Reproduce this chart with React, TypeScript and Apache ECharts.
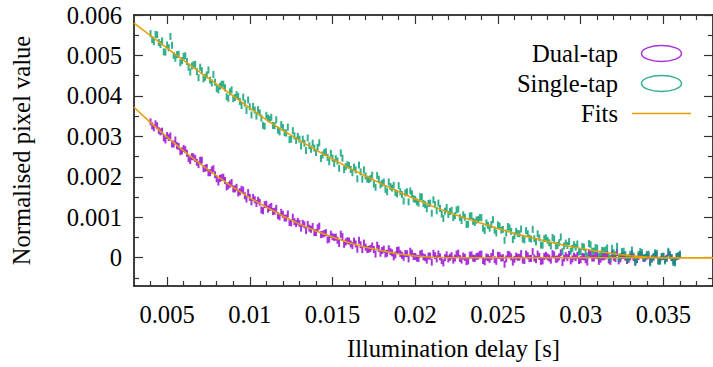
import React, { useEffect, useRef } from 'react';
import * as echarts from 'echarts';

// Illumination delay [s] of each measured sample (even and odd sample rows)
const delaysA = [
  40e-4, 42e-4, 44e-4, 46e-4, 48e-4, 50e-4, 52e-4, 54e-4, 56e-4, 58e-4,
  60e-4, 62e-4, 64e-4, 66e-4, 68e-4, 70e-4, 72e-4, 74e-4, 76e-4, 78e-4,
  80e-4, 82e-4, 84e-4, 86e-4, 88e-4, 90e-4, 92e-4, 94e-4, 96e-4, 98e-4,
  100e-4, 102e-4, 104e-4, 106e-4, 108e-4, 110e-4, 112e-4, 114e-4, 116e-4, 118e-4,
  120e-4, 122e-4, 124e-4, 126e-4, 128e-4, 130e-4, 132e-4, 134e-4, 136e-4, 138e-4,
  140e-4, 142e-4, 144e-4, 146e-4, 148e-4, 150e-4, 152e-4, 154e-4, 156e-4, 158e-4,
  160e-4, 162e-4, 164e-4, 166e-4, 168e-4, 170e-4, 172e-4, 174e-4, 176e-4, 178e-4,
  180e-4, 182e-4, 184e-4, 186e-4, 188e-4, 190e-4, 192e-4, 194e-4, 196e-4, 198e-4,
  200e-4, 202e-4, 204e-4, 206e-4, 208e-4, 210e-4, 212e-4, 214e-4, 216e-4, 218e-4,
  220e-4, 222e-4, 224e-4, 226e-4, 228e-4, 230e-4, 232e-4, 234e-4, 236e-4, 238e-4,
  240e-4, 242e-4, 244e-4, 246e-4, 248e-4, 250e-4, 252e-4, 254e-4, 256e-4, 258e-4,
  260e-4, 262e-4, 264e-4, 266e-4, 268e-4, 270e-4, 272e-4, 274e-4, 276e-4, 278e-4,
  280e-4, 282e-4, 284e-4, 286e-4, 288e-4, 290e-4, 292e-4, 294e-4, 296e-4, 298e-4,
  300e-4, 302e-4, 304e-4, 306e-4, 308e-4, 310e-4, 312e-4, 314e-4, 316e-4, 318e-4,
  320e-4, 322e-4, 324e-4, 326e-4, 328e-4, 330e-4, 332e-4, 334e-4, 336e-4, 338e-4,
  340e-4, 342e-4, 344e-4, 346e-4, 348e-4, 350e-4, 352e-4, 354e-4, 356e-4, 358e-4,
  360e-4,
];
const delaysB = [
  41e-4, 43e-4, 45e-4, 47e-4, 49e-4, 51e-4, 53e-4, 55e-4, 57e-4, 59e-4,
  61e-4, 63e-4, 65e-4, 67e-4, 69e-4, 71e-4, 73e-4, 75e-4, 77e-4, 79e-4,
  81e-4, 83e-4, 85e-4, 87e-4, 89e-4, 91e-4, 93e-4, 95e-4, 97e-4, 99e-4,
  101e-4, 103e-4, 105e-4, 107e-4, 109e-4, 111e-4, 113e-4, 115e-4, 117e-4, 119e-4,
  121e-4, 123e-4, 125e-4, 127e-4, 129e-4, 131e-4, 133e-4, 135e-4, 137e-4, 139e-4,
  141e-4, 143e-4, 145e-4, 147e-4, 149e-4, 151e-4, 153e-4, 155e-4, 157e-4, 159e-4,
  161e-4, 163e-4, 165e-4, 167e-4, 169e-4, 171e-4, 173e-4, 175e-4, 177e-4, 179e-4,
  181e-4, 183e-4, 185e-4, 187e-4, 189e-4, 191e-4, 193e-4, 195e-4, 197e-4, 199e-4,
  201e-4, 203e-4, 205e-4, 207e-4, 209e-4, 211e-4, 213e-4, 215e-4, 217e-4, 219e-4,
  221e-4, 223e-4, 225e-4, 227e-4, 229e-4, 231e-4, 233e-4, 235e-4, 237e-4, 239e-4,
  241e-4, 243e-4, 245e-4, 247e-4, 249e-4, 251e-4, 253e-4, 255e-4, 257e-4, 259e-4,
  261e-4, 263e-4, 265e-4, 267e-4, 269e-4, 271e-4, 273e-4, 275e-4, 277e-4, 279e-4,
  281e-4, 283e-4, 285e-4, 287e-4, 289e-4, 291e-4, 293e-4, 295e-4, 297e-4, 299e-4,
  301e-4, 303e-4, 305e-4, 307e-4, 309e-4, 311e-4, 313e-4, 315e-4, 317e-4, 319e-4,
  321e-4, 323e-4, 325e-4, 327e-4, 329e-4, 331e-4, 333e-4, 335e-4, 337e-4, 339e-4,
  341e-4, 343e-4, 345e-4, 347e-4, 349e-4, 351e-4, 353e-4, 355e-4, 357e-4, 359e-4,
];

// Normalised pixel value, dual-tap (at delaysA, then at delaysB)
const dualTapA = [
  336e-5, 321e-5, 326e-5, 311e-5, 296e-5, 302e-5, 301e-5, 281e-5, 277e-5, 262e-5,
  270e-5, 258e-5, 240e-5, 249e-5, 236e-5, 241e-5, 220e-5, 223e-5, 210e-5, 220e-5,
  195e-5, 196e-5, 199e-5, 175e-5, 182e-5, 170e-5, 174e-5, 163e-5, 167e-5, 145e-5,
  149e-5, 149e-5, 134e-5, 137e-5, 116e-5, 132e-5, 124e-5, 114e-5, 122e-5, 101e-5,
  107e-5, 98e-5, 87e-5, 100e-5, 84e-5, 85e-5, 85e-5, 67e-5, 73e-5, 77e-5,
  62e-5, 78e-5, 58e-5, 62e-5, 46e-5, 52e-5, 51e-5, 35e-5, 52e-5, 39e-5,
  41e-5, 30e-5, 34e-5, 43e-5, 20e-5, 26e-5, 21e-5, 29e-5, 9e-5, 23e-5,
  18e-5, 9e-5, 22e-5, 12e-5, 7e-5, 19e-5, 6e-5, 10e-5, -3e-5, 11e-5,
  3e-5, -2e-5, 11e-5, 0, 4e-5, -11e-5, 5e-5, 9e-5, -7e-5, 0,
  -3e-5, 5e-5, -1e-5, 11e-5, -6e-5, 1e-5, -8e-5, 7e-5, -2e-5, 4e-5,
  9e-5, -10e-5, 0, 3e-5, -5e-5, 6e-5, -1e-5, -16e-5, 8e-5, 2e-5,
  -4e-5, 1e-5, 10e-5, -7e-5, 5e-5, -2e-5, -1e-5, 9e-5, -9e-5, 3e-5,
  2e-5, -6e-5, 7e-5, -3e-5, 12e-5, -1e-5, 0, -8e-5, 4e-5, 6e-5,
  -5e-5, 2e-5, -11e-5, 9e-5, -1e-5, 5e-5, -4e-5, 2e-5, 8e-5, -9e-5,
  1e-5, 13e-5, -3e-5, 6e-5, -7e-5, 2e-5, 0, -5e-5, 8e-5, -2e-5,
  4e-5, -10e-5, 1e-5, 7e-5, -6e-5, 3e-5, -1e-5, 5e-5, -8e-5, 2e-5,
  6e-5,
];
const dualTapB = [
  326e-5, 331e-5, 314e-5, 313e-5, 291e-5, 297e-5, 281e-5, 291e-5, 275e-5, 264e-5,
  267e-5, 245e-5, 250e-5, 245e-5, 230e-5, 241e-5, 221e-5, 210e-5, 217e-5, 205e-5,
  187e-5, 198e-5, 191e-5, 178e-5, 186e-5, 170e-5, 160e-5, 169e-5, 153e-5, 161e-5,
  138e-5, 143e-5, 142e-5, 118e-5, 131e-5, 120e-5, 127e-5, 115e-5, 104e-5, 112e-5,
  98e-5, 108e-5, 86e-5, 89e-5, 90e-5, 73e-5, 81e-5, 82e-5, 70e-5, 62e-5,
  74e-5, 57e-5, 60e-5, 44e-5, 58e-5, 50e-5, 43e-5, 58e-5, 33e-5, 42e-5,
  34e-5, 41e-5, 21e-5, 32e-5, 36e-5, 20e-5, 23e-5, 20e-5, 31e-5, 11e-5,
  21e-5, 11e-5, 15e-5, 2e-5, 18e-5, 10e-5, 1e-5, 10e-5, 16e-5, 3e-5,
  -1e-5, 9e-5, 2e-5, -6e-5, 4e-5, 11e-5, -3e-5, 2e-5, -13e-5, 7e-5,
  1e-5, -6e-5, 9e-5, -2e-5, 4e-5, -10e-5, 6e-5, -1e-5, 3e-5, 8e-5,
  -7e-5, 2e-5, -4e-5, 12e-5, -9e-5, 5e-5, 0, -3e-5, 7e-5, -11e-5,
  4e-5, 1e-5, -6e-5, 9e-5, -2e-5, 15e-5, -5e-5, 3e-5, -8e-5, 6e-5,
  -1e-5, 10e-5, -4e-5, 2e-5, -12e-5, 5e-5, 8e-5, -3e-5, 0, -7e-5,
  3e-5, -5e-5, 11e-5, -1e-5, 6e-5, -9e-5, 2e-5, 4e-5, -6e-5, 9e-5,
  -2e-5, -8e-5, 5e-5, 1e-5, -4e-5, 10e-5, -11e-5, 3e-5, 7e-5, -1e-5,
  5e-5, -3e-5, 8e-5, -7e-5, 2e-5, -5e-5, 12e-5, 0, -9e-5, 4e-5,
];

// Normalised pixel value, single-tap (at delaysA, then at delaysB)
const singleTapA = [
  554e-5, 534e-5, 551e-5, 527e-5, 509e-5, 526e-5, 547e-5, 500e-5, 502e-5, 482e-5,
  498e-5, 485e-5, 459e-5, 477e-5, 460e-5, 471e-5, 442e-5, 452e-5, 439e-5, 453e-5,
  418e-5, 424e-5, 429e-5, 398e-5, 410e-5, 393e-5, 403e-5, 386e-5, 397e-5, 364e-5,
  373e-5, 374e-5, 350e-5, 358e-5, 327e-5, 352e-5, 342e-5, 327e-5, 341e-5, 311e-5,
  322e-5, 308e-5, 292e-5, 314e-5, 290e-5, 293e-5, 293e-5, 265e-5, 277e-5, 283e-5,
  260e-5, 284e-5, 254e-5, 262e-5, 237e-5, 246e-5, 245e-5, 221e-5, 246e-5, 225e-5,
  228e-5, 210e-5, 217e-5, 229e-5, 194e-5, 202e-5, 193e-5, 204e-5, 174e-5, 194e-5,
  184e-5, 169e-5, 187e-5, 172e-5, 161e-5, 178e-5, 156e-5, 160e-5, 138e-5, 158e-5,
  144e-5, 135e-5, 150e-5, 131e-5, 134e-5, 110e-5, 131e-5, 135e-5, 108e-5, 115e-5,
  107e-5, 117e-5, 104e-5, 120e-5, 92e-5, 100e-5, 83e-5, 104e-5, 87e-5, 94e-5,
  99e-5, 67e-5, 80e-5, 82e-5, 68e-5, 81e-5, 68e-5, 43e-5, 77e-5, 65e-5,
  54e-5, 60e-5, 71e-5, 44e-5, 59e-5, 46e-5, 47e-5, 59e-5, 31e-5, 47e-5,
  43e-5, 29e-5, 46e-5, 30e-5, 51e-5, 29e-5, 30e-5, 16e-5, 32e-5, 34e-5,
  15e-5, 26e-5, 4e-5, 32e-5, 16e-5, 23e-5, 9e-5, 17e-5, 24e-5, -2e-5,
  12e-5, 28e-5, 3e-5, 16e-5, -5e-5, 8e-5, 4e-5, -4e-5, 15e-5, 0,
  8e-5, -13e-5, 3e-5, 11e-5, -9e-5, 4e-5, -2e-5, 8e-5, -12e-5, 3e-5,
  9e-5,
];
const singleTapB = [
  539e-5, 552e-5, 532e-5, 536e-5, 508e-5, 519e-5, 525e-5, 493e-5, 503e-5, 487e-5,
  499e-5, 471e-5, 474e-5, 478e-5, 445e-5, 462e-5, 446e-5, 464e-5, 432e-5, 434e-5,
  415e-5, 429e-5, 420e-5, 394e-5, 415e-5, 396e-5, 399e-5, 376e-5, 382e-5, 390e-5,
  353e-5, 365e-5, 366e-5, 345e-5, 325e-5, 345e-5, 347e-5, 326e-5, 315e-5, 329e-5,
  309e-5, 323e-5, 293e-5, 301e-5, 300e-5, 276e-5, 283e-5, 296e-5, 268e-5, 271e-5,
  273e-5, 245e-5, 260e-5, 248e-5, 258e-5, 233e-5, 239e-5, 259e-5, 218e-5, 230e-5,
  218e-5, 224e-5, 195e-5, 212e-5, 217e-5, 194e-5, 196e-5, 182e-5, 203e-5, 180e-5,
  187e-5, 163e-5, 176e-5, 179e-5, 158e-5, 163e-5, 140e-5, 163e-5, 165e-5, 146e-5,
  138e-5, 151e-5, 134e-5, 121e-5, 135e-5, 143e-5, 116e-5, 122e-5, 97e-5, 124e-5,
  114e-5, 99e-5, 118e-5, 99e-5, 106e-5, 82e-5, 103e-5, 90e-5, 93e-5, 99e-5,
  73e-5, 86e-5, 73e-5, 94e-5, 61e-5, 78e-5, 70e-5, 61e-5, 74e-5, 45e-5,
  65e-5, 59e-5, 46e-5, 67e-5, 48e-5, 70e-5, 39e-5, 49e-5, 31e-5, 49e-5,
  37e-5, 50e-5, 29e-5, 37e-5, 15e-5, 36e-5, 40e-5, 23e-5, 26e-5, 14e-5,
  28e-5, 13e-5, 35e-5, 16e-5, 25e-5, 3e-5, 18e-5, 19e-5, 3e-5, 23e-5,
  7e-5, -2e-5, 15e-5, 8e-5, 0, 19e-5, -11e-5, 8e-5, 13e-5, 1e-5,
  9e-5, -3e-5, 12e-5, -9e-5, 3e-5, -8e-5, 16e-5, 0, -13e-5, 5e-5,
];

// Fitted curves
const fitDelays = [
  0.003, 0.004, 0.005, 0.006, 0.007, 0.008, 0.009, 0.010, 0.011, 0.012,
  0.013, 0.014, 0.015, 0.016, 0.017, 0.018, 0.019, 0.020, 0.021, 0.022,
  0.023, 0.024, 0.025, 0.026, 0.027, 0.028, 0.029, 0.030, 0.031, 0.032,
  0.033, 0.034, 0.035, 0.036, 0.037, 0.038,
];
const dualFit = [
  372e-5, 334e-5, 298e-5, 264e-5, 232e-5, 202e-5, 174e-5, 148e-5, 125e-5, 103e-5,
  83e-5, 66e-5, 51e-5, 37e-5, 26e-5, 17e-5, 9e-5, 4e-5, 1e-5, 0,
  0, 0, 0, 0, 0, 0, 0, 0, 0, 0,
  0, 0, 0, 0, 0, 0,
];
const singleFit = [
  580e-5, 549e-5, 518e-5, 488e-5, 458e-5, 429e-5, 400e-5, 370e-5, 341e-5, 315e-5,
  290e-5, 266e-5, 244e-5, 222e-5, 202e-5, 182e-5, 163e-5, 145e-5, 128e-5, 112e-5,
  98e-5, 85e-5, 72e-5, 60e-5, 50e-5, 40e-5, 31e-5, 23e-5, 16e-5, 10e-5,
  5e-5, 2e-5, 0, 0, 0, 0,
];

// Tick positions / labels
const xMajorTicks = [0.005, 0.01, 0.015, 0.02, 0.025, 0.03, 0.035];
const xMinorTicks = [
  0.004, 0.006, 0.007, 0.008, 0.009, 0.011, 0.012, 0.013, 0.014, 0.016,
  0.017, 0.018, 0.019, 0.021, 0.022, 0.023, 0.024, 0.026, 0.027, 0.028,
  0.029, 0.031, 0.032, 0.033, 0.034, 0.036, 0.037,
];
const yMajorTicks = [0, 0.001, 0.002, 0.003, 0.004, 0.005, 0.006];
const yMinorTicks = [-0.0005, 0.0005, 0.0015, 0.0025, 0.0035, 0.0045, 0.0055];

const FONT = "'Liberation Serif', 'Times New Roman', Times, serif";
const FS = 24.6;
const PURPLE = '#9400D3';
const GREEN = '#009E73';
const ORANGE = '#E69F00';
const ELLIPSE = 'path://M0,8A20,8,0,1,1,40,8A20,8,0,1,1,0,8Z';
const BAR = 'path://M0,0L59,0L59,1.5L0,1.5Z';

const lineStyle = { color: '#000', width: 1.5 };
const tickStyle = { color: '#333', width: 1.2 };
const fmt = (v: number) => String(v);

function xAx(position: string, ticks: number[], len: number, withLine: boolean, extra: any = {}) {
  return {
    type: 'value',
    position,
    min: 0.003,
    max: 0.038,
    splitLine: { show: false },
    axisLine: { show: withLine, onZero: false, lineStyle },
    axisTick: { show: true, inside: true, length: len, customValues: ticks, lineStyle: tickStyle },
    axisLabel: { show: false },
    ...extra,
  };
}
function yAx(position: string, ticks: number[], len: number, withLine: boolean, extra: any = {}) {
  return {
    type: 'value',
    position,
    min: -0.0007,
    max: 0.006,
    splitLine: { show: false },
    axisLine: { show: withLine, onZero: false, lineStyle },
    axisTick: { show: true, inside: true, length: len, customValues: ticks, lineStyle: tickStyle },
    axisLabel: { show: false },
    ...extra,
  };
}

const pairs = (xs: number[], ys: number[]) => xs.map((x, i) => [x, ys[i]]);

export default function App() {
  const ref = useRef<HTMLDivElement>(null);
  useEffect(() => {
    const chart = echarts.init(ref.current!, null, { renderer: 'svg' });
    const labelStyle = { fontSize: FS, fontFamily: FONT, color: '#000' };
    const dots = (name: string, color: string, a: number[], b: number[], z: number) => ({
      type: 'scatter',
      name,
      data: pairs(delaysA, a).concat(pairs(delaysB, b)),
      symbol: 'rect',
      symbolSize: [2, 7],
      itemStyle: { color },
      silent: true,
      z,
    });
    const fit = (ys: number[]) => ({
      type: 'line',
      name: 'Fits',
      data: pairs(fitDelays, ys),
      symbol: 'none',
      showSymbol: false,
      lineStyle: { color: ORANGE, width: 1.5 },
      itemStyle: { color: ORANGE },
      silent: true,
      z: 4,
    });
    chart.setOption({
      animation: false,
      backgroundColor: '#fff',
      textStyle: { fontFamily: FONT },
      grid: { left: 134, top: 15, right: -7, bottom: 81, containLabel: false },
      legend: {
        orient: 'vertical',
        right: 22,
        top: 41,
        padding: 0,
        align: 'right',
        itemWidth: 59,
        itemHeight: 16,
        itemGap: 5,
        symbolKeepAspect: true,
        selectedMode: false,
        textStyle: { ...labelStyle, padding: [0, 9, 0, 0] },
        data: [
          { name: 'Dual-tap', icon: ELLIPSE, itemStyle: { color: 'rgba(0,0,0,0)', borderColor: PURPLE, borderWidth: 1.5 } },
          { name: 'Single-tap', icon: ELLIPSE, itemStyle: { color: 'rgba(0,0,0,0)', borderColor: GREEN, borderWidth: 1.5 } },
          { name: 'Fits', icon: BAR, itemStyle: { color: ORANGE, borderWidth: 0 } },
        ],
      },
      xAxis: [
        xAx('bottom', xMajorTicks, 9, true, {
          axisLabel: { show: true, customValues: xMajorTicks, formatter: fmt, margin: 16, ...labelStyle },
          name: 'Illumination delay [s]',
          nameLocation: 'middle',
          nameGap: 50,
          nameTextStyle: { ...labelStyle, padding: [0, 0, 0, 60] },
        }),
        xAx('bottom', xMinorTicks, 5, false),
        xAx('top', xMajorTicks, 9, true),
        xAx('top', xMinorTicks, 5, false),
      ],
      yAxis: [
        yAx('left', yMajorTicks, 9, true, {
          axisLabel: { show: true, customValues: yMajorTicks, formatter: fmt, margin: 12, ...labelStyle },
          name: 'Normalised pixel value',
          nameLocation: 'middle',
          nameGap: 100,
          nameTextStyle: labelStyle,
        }),
        yAx('left', yMinorTicks, 5, false),
        yAx('right', yMajorTicks, 9, true),
        yAx('right', yMinorTicks, 5, false),
      ],
      series: [
        dots('Dual-tap', PURPLE, dualTapA, dualTapB, 2),
        dots('Single-tap', GREEN, singleTapA, singleTapB, 3),
        fit(dualFit),
        fit(singleFit),
      ],
    });
    return () => chart.dispose();
  }, []);
  return <div ref={ref} style={{ position: 'fixed', left: 0, top: 0, width: 713, height: 367 }} />;
}
